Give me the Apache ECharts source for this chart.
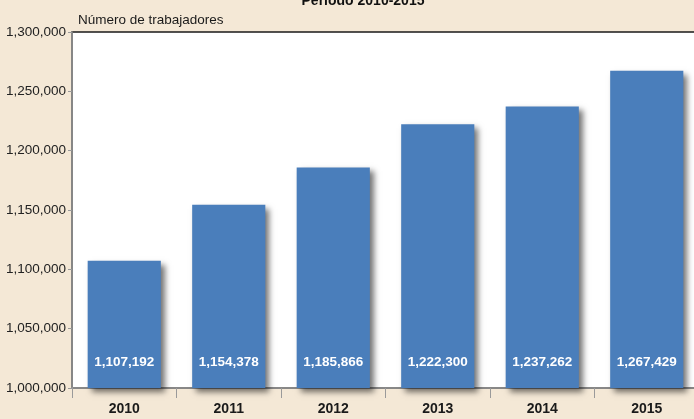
<!DOCTYPE html>
<html lang="es">
<head>
    <meta charset="UTF-8">
    <title>Número de trabajadores</title>
    <style>
      html, body { margin: 0; padding: 0; background: #f4e8d6; }
    </style>
</head>
<body>

    <div id="main" style="width: 694px; height: 419px;"></div>
    <script src="https://cdn.jsdelivr.net/npm/echarts@6/dist/echarts.min.js"></script>
    <script>
      const years = ['2010', '2011', '2012', '2013', '2014', '2015'];
      const workers = [1107192, 1154378, 1185866, 1222300, 1237262, 1267429];
      const yMin = 1000000;
      const yMax = 1300000;
      const yStep = 50000;

      const font = '"Liberation Sans", Arial, sans-serif';

      function fmt(v) {
        return String(v).replace(/\B(?=(\d{3})+(?!\d))/g, ',');
      }

      var chartDom = document.getElementById('main');
      var myChart = echarts.init(chartDom);
      var option;

      option = {
        backgroundColor: '#f4e8d6',
        animation: false,
        title: {
          text: 'Periodo 2010-2015',
          left: 358,
          textAlign: 'center',
          top: -11,
          textStyle: { fontFamily: font, fontSize: 14, fontWeight: 'bold', color: '#111' }
        },
        grid: {
          left: 72,
          top: 32,
          width: 627,
          height: 356,
          outerBoundsMode: 'none',
          containLabel: false,
          show: true,
          backgroundColor: '#ffffff',
          borderColor: '#1a1a1a',
          borderWidth: 1.5
        },
        xAxis: {
          type: 'category',
          data: years,
          axisLine: { lineStyle: { color: '#9a9a9a', width: 1.5 } },
          axisTick: { show: true, length: 10, lineStyle: { color: '#9a9a9a' } },
          axisLabel: {
            margin: 14,
            fontFamily: font,
            fontSize: 14,
            fontWeight: 'bold',
            color: '#1a1a1a'
          }
        },
        yAxis: {
          type: 'value',
          min: yMin,
          max: yMax,
          interval: yStep,
          name: 'Número de trabajadores',
          nameLocation: 'end',
          nameGap: 5,
          nameTextStyle: {
            fontFamily: font,
            fontSize: 13.5,
            color: '#1a1a1a',
            align: 'left',
            verticalAlign: 'bottom',
            padding: [0, 0, 0, 6]
          },
          axisLine: { show: true, lineStyle: { color: '#9a9a9a', width: 1.5 } },
          axisTick: { show: true, length: 4, lineStyle: { color: '#9a9a9a' } },
          splitLine: { show: false },
          axisLabel: {
            margin: 6,
            fontFamily: font,
            fontSize: 13.5,
            color: '#222',
            formatter: function (v) { return fmt(v); }
          }
        },
        series: [
          {
            type: 'bar',
            data: workers,
            barWidth: '70%',
            itemStyle: {
              color: '#4a7ebb',
              shadowColor: 'rgba(0, 0, 0, 0.55)',
              shadowBlur: 6,
              shadowOffsetX: 4,
              shadowOffsetY: 4
            },
            label: {
              show: true,
              position: 'insideBottom',
              distance: 19,
              fontFamily: font,
              fontSize: 13.5,
              fontWeight: 'bold',
              color: '#ffffff',
              formatter: function (p) { return fmt(p.value); }
            }
          }
        ]
      };

      option && myChart.setOption(option);
    </script>
</body>
</html>
